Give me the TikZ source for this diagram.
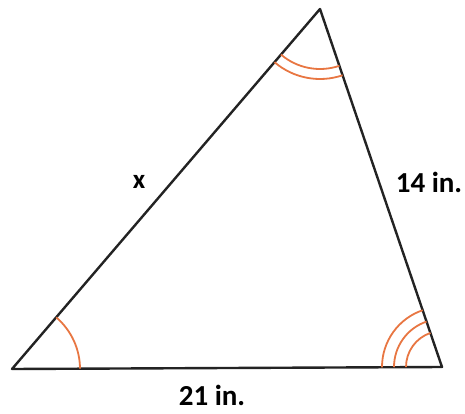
\documentclass[tikz,border=0pt]{standalone}
\usepackage{fontspec}
\setmainfont{Carlito}
\usetikzlibrary{angles}
\definecolor{arccol}{RGB}{232,118,66}
\definecolor{edgecol}{RGB}{35,35,35}
\begin{document}
\begin{tikzpicture}[x=1pt,y=1pt,
  edge/.style={draw=edgecol,line width=2.4pt,line join=round},
  anglemark/.style={draw=arccol,line width=1.8pt},
  lbl/.style={font=\fontsize{29}{31}\selectfont\bfseries,inner sep=0pt}]
\useasboundingbox (0,0) rectangle (465,413);
\coordinate (A) at (12,44);
\coordinate (B) at (442,46);
\coordinate (C) at (320,404);
\draw[edge] (A) -- (B) -- (C) -- cycle;
\pic[anglemark,angle radius=68pt] {angle=B--A--C};
\pic[anglemark,angle radius=60pt] {angle=A--C--B};
\pic[anglemark,angle radius=70pt] {angle=A--C--B};
\pic[anglemark,angle radius=36pt] {angle=C--B--A};
\pic[anglemark,angle radius=48pt] {angle=C--B--A};
\pic[anglemark,angle radius=60pt] {angle=C--B--A};
\node[lbl,font=\fontsize{27}{29}\selectfont\bfseries] (x) at (139,231) {x};
\node[lbl] (s14) at (429,231) {14 in.};
\node[lbl] (s21) at (212,18) {21 in.};
\end{tikzpicture}
\end{document}
